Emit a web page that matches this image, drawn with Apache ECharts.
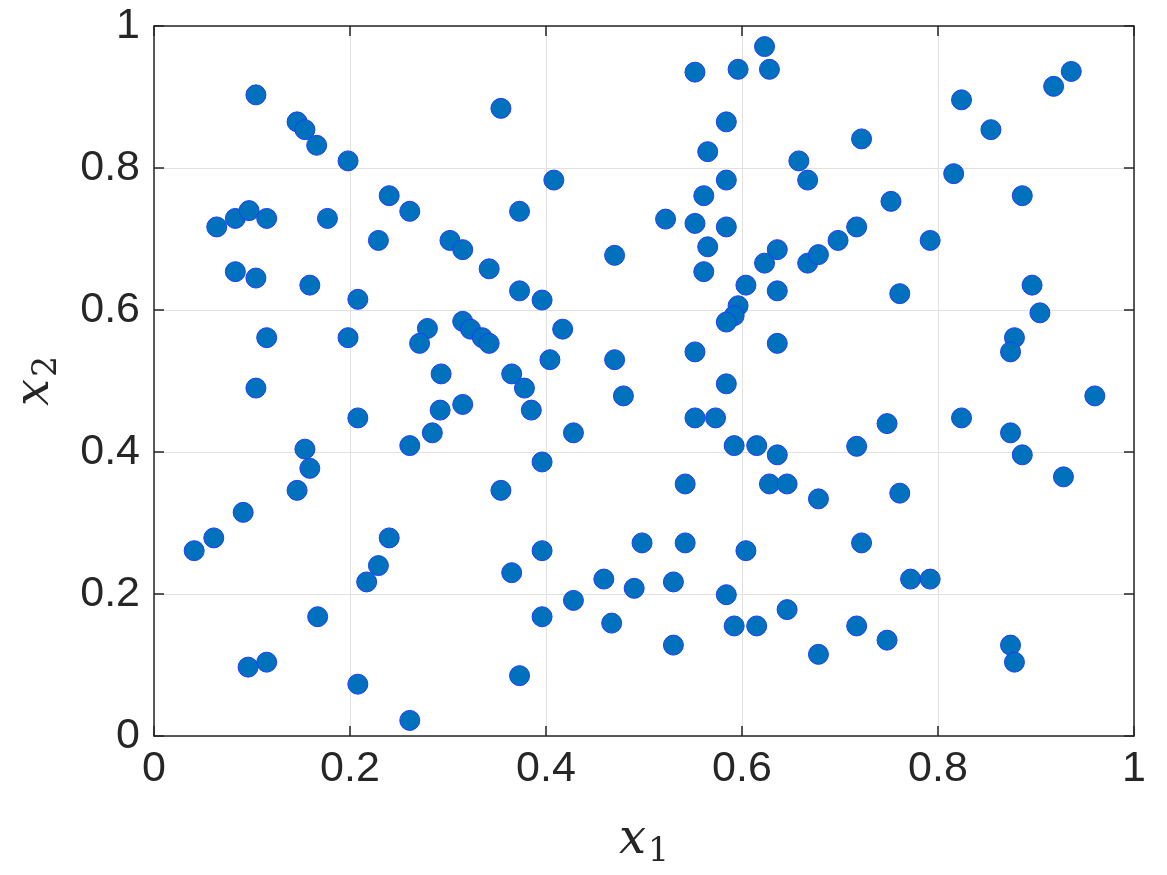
<!DOCTYPE html>
<html>
<head>
<meta charset="UTF-8">
<title>scatter</title>
<style>
  html, body { margin: 0; padding: 0; background: #fff; }
</style>
</head>
<body>
<div id="main" style="width: 1167px;height:875px;"></div>
<script src="https://cdn.jsdelivr.net/npm/echarts@6/dist/echarts.min.js"></script>
<script type="text/javascript">
// sample points
var x1 = [0.104,0.146,0.154,0.166,0.198,0.240,0.261,0.064,0.083,0.097,
          0.115,0.177,0.229,0.302,0.315,0.342,0.083,0.104,0.159,0.208,
          0.115,0.198,0.279,0.271,0.315,0.323,0.335,0.342,0.293,0.104,
          0.354,0.552,0.596,0.623,0.628,0.584,0.565,0.658,0.667,0.408,
          0.584,0.373,0.561,0.522,0.552,0.584,0.565,0.470,0.561,0.636,
          0.623,0.667,0.678,0.373,0.396,0.604,0.636,0.596,0.592,0.584,
          0.417,0.636,0.552,0.404,0.470,0.365,0.378,0.584,0.479,0.936,
          0.918,0.824,0.854,0.722,0.816,0.886,0.752,0.717,0.698,0.792,
          0.761,0.896,0.904,0.878,0.874,0.960,0.208,0.292,0.315,0.284,
          0.261,0.154,0.159,0.146,0.091,0.061,0.041,0.240,0.229,0.217,
          0.167,0.096,0.115,0.208,0.261,0.385,0.552,0.573,0.428,0.592,
          0.615,0.636,0.396,0.354,0.542,0.628,0.646,0.678,0.498,0.542,
          0.396,0.604,0.365,0.459,0.490,0.530,0.584,0.428,0.396,0.467,
          0.592,0.615,0.646,0.530,0.678,0.373,0.748,0.717,0.824,0.874,
          0.886,0.928,0.761,0.722,0.772,0.792,0.717,0.748,0.874,0.878];
var x2 = [0.903,0.865,0.854,0.832,0.810,0.761,0.739,0.717,0.729,0.740,
          0.729,0.729,0.698,0.698,0.685,0.658,0.654,0.645,0.635,0.615,
          0.561,0.561,0.574,0.553,0.584,0.573,0.561,0.553,0.510,0.490,
          0.884,0.935,0.939,0.971,0.939,0.865,0.823,0.810,0.783,0.783,
          0.783,0.739,0.761,0.728,0.722,0.717,0.689,0.677,0.654,0.685,
          0.666,0.666,0.678,0.627,0.614,0.635,0.627,0.606,0.592,0.583,
          0.573,0.553,0.541,0.530,0.530,0.510,0.490,0.496,0.479,0.936,
          0.915,0.896,0.854,0.841,0.792,0.761,0.753,0.717,0.698,0.698,
          0.623,0.635,0.596,0.561,0.541,0.479,0.448,0.459,0.467,0.427,
          0.409,0.404,0.377,0.346,0.315,0.279,0.261,0.279,0.240,0.217,
          0.168,0.097,0.104,0.073,0.022,0.459,0.448,0.448,0.427,0.409,
          0.409,0.396,0.386,0.346,0.355,0.355,0.355,0.334,0.272,0.272,
          0.261,0.261,0.230,0.221,0.208,0.217,0.199,0.191,0.168,0.159,
          0.155,0.155,0.178,0.128,0.115,0.085,0.440,0.408,0.448,0.427,
          0.396,0.365,0.342,0.272,0.221,0.221,0.155,0.135,0.128,0.104];
var ticks = [0, 0.2, 0.4, 0.6, 0.8, 1];

var pts = [];
for (var i = 0; i < x1.length; i++) {
  pts.push([x1[i], x2[i]]);
}

var myChart = echarts.init(document.getElementById('main'));

var tickFont = {
  color: '#262626',
  fontSize: 43,
  fontFamily: 'Liberation Sans, Arial, sans-serif'
};
var nameRich = {
  i: { fontFamily: 'DejaVu Serif', fontStyle: 'italic', fontSize: 48, color: '#262626' },
  s: { fontFamily: 'DejaVu Serif', fontSize: 33, color: '#262626', padding: [24, 0, 0, 2] }
};
var lineStyle = { color: '#262626', width: 1.5 };
var fmt = function (v) { return ticks.indexOf(v) >= 0 ? String(v) : ''; };

option = {
  animation: false,
  grid: { left: 154, right: 33, top: 26, bottom: 139 },
  xAxis: [{
    type: 'value', min: 0, max: 1, interval: 0.2,
    name: '{i|x}{s|1}', nameLocation: 'middle', nameGap: 76,
    nameTextStyle: { rich: nameRich },
    axisLine: { show: true, onZero: false, lineStyle: lineStyle },
    axisTick: { show: true, inside: true, length: 10, lineStyle: lineStyle },
    axisLabel: Object.assign({ margin: 12, formatter: fmt }, tickFont),
    splitLine: { show: true, lineStyle: { color: '#e1e1e1', width: 1 } }
  }, {
    type: 'value', min: 0, max: 1, interval: 0.2, position: 'top',
    axisLine: { show: true, onZero: false, lineStyle: lineStyle },
    axisTick: { show: true, inside: true, length: 10, lineStyle: lineStyle },
    axisLabel: { show: false },
    splitLine: { show: false }
  }],
  yAxis: [{
    type: 'value', min: 0, max: 1, interval: 0.2,
    name: '{i|x}{s|2}', nameLocation: 'middle', nameGap: 90, nameRotate: 90,
    nameTextStyle: { rich: nameRich },
    axisLine: { show: true, onZero: false, lineStyle: lineStyle },
    axisTick: { show: true, inside: true, length: 10, lineStyle: lineStyle },
    axisLabel: Object.assign({ margin: 14, formatter: fmt }, tickFont),
    splitLine: { show: true, lineStyle: { color: '#e1e1e1', width: 1 } }
  }, {
    type: 'value', min: 0, max: 1, interval: 0.2, position: 'right',
    axisLine: { show: true, onZero: false, lineStyle: lineStyle },
    axisTick: { show: true, inside: true, length: 10, lineStyle: lineStyle },
    axisLabel: { show: false },
    splitLine: { show: false }
  }],
  series: [{
    type: 'scatter',
    xAxisIndex: 0,
    yAxisIndex: 0,
    data: pts,
    symbol: 'circle',
    symbolSize: 20,
    itemStyle: { color: '#0072bd', borderColor: '#1f3cff', borderWidth: 1, opacity: 1 }
  }]
};

myChart.setOption(option);
</script>
</body>
</html>
